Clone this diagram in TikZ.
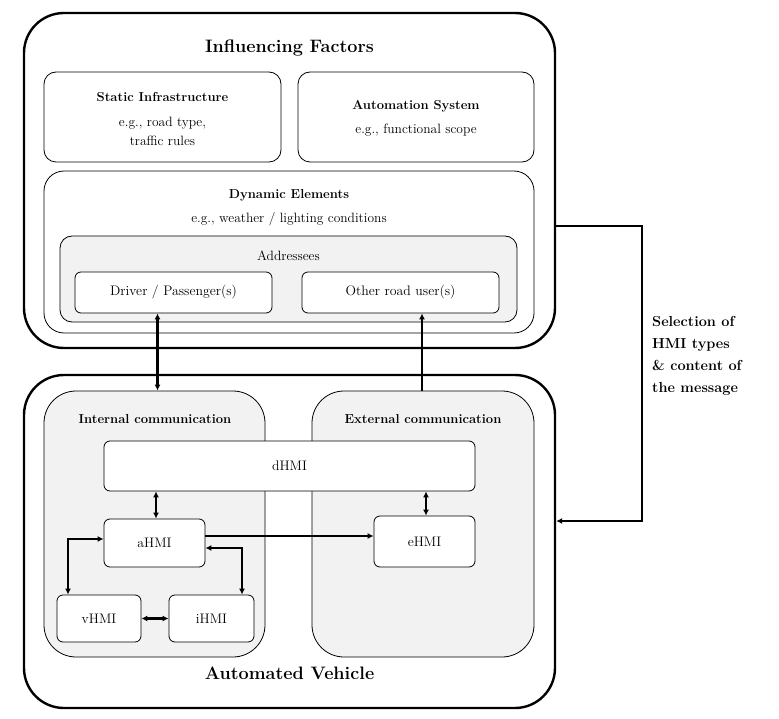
\documentclass[tikz,border=0pt]{standalone}
\usetikzlibrary{arrows.meta}
\definecolor{panel}{RGB}{242,242,242}
\begin{document}
\begin{tikzpicture}[x=1pt,y=-1pt,
  big/.style={draw,line width=2.4pt,rounded corners=40pt,inner sep=0pt},
  sub/.style={draw,line width=0.8pt,inner sep=0pt},
  grp/.style={sub,fill=panel},
  hmi/.style={sub,fill=white,rounded corners=6pt,font=\fontsize{13.8}{15}\selectfont},
  bigtitle/.style={font=\bfseries\fontsize{18}{21}\selectfont},
  subtitle/.style={font=\bfseries\fontsize{13}{16}\selectfont},
  body/.style={font=\fontsize{13.5}{19}\selectfont,align=center},
  arr/.style={line width=2.2pt,{Latex[length=6pt,width=6pt]}-{Latex[length=6pt,width=6pt]}},
  arrone/.style={line width=2.2pt,-{Latex[length=6pt,width=6pt]}},
]
\useasboundingbox (0,0) rectangle (779,719);
% Influencing factors
\node[big,minimum width=531pt,minimum height=335pt] (inf) at (289.5,180.5) {};
\node[bigtitle] (inftitle) at (289.5,48) {Influencing Factors};
\node[sub,rounded corners=12pt,minimum width=237pt,minimum height=90pt] (static) at (162.5,117) {};
\node[subtitle] (statict) at (162.5,97) {Static Infrastructure};
\node[body] (staticb) at (162.5,131) {e.g., road type,\\traffic rules};
\node[sub,rounded corners=12pt,minimum width=236pt,minimum height=90pt] (auto) at (416,117) {};
\node[subtitle] (autot) at (416,106) {Automation System};
\node[body] (autob) at (416,130) {e.g., functional scope};
\node[sub,rounded corners=20pt,minimum width=490pt,minimum height=162pt] (dyn) at (289,252) {};
\node[subtitle] (dynt) at (289,195) {Dynamic Elements};
\node[body] (dynb) at (289,219) {e.g., weather / lighting conditions};
\node[grp,rounded corners=12pt,minimum width=457pt,minimum height=86pt] (addr) at (288.5,279) {};
\node[body] (addrt) at (288.5,256) {Addressees};
\node[hmi,minimum width=197pt,minimum height=41pt] (driver) at (173.5,292.5) {Driver / Passenger(s)};
\node[hmi,minimum width=197pt,minimum height=41pt] (other) at (400.5,292.5) {Other road user(s)};
% Automated vehicle
\node[big,minimum width=531pt,minimum height=333pt] (av) at (289.5,541.5) {};
\node[bigtitle] (avtitle) at (289.5,673) {Automated Vehicle};
\node[grp,rounded corners=32pt,minimum width=221pt,minimum height=266pt] (int) at (154.5,524) {};
\node[subtitle] (intt) at (155,419) {Internal communication};
\node[grp,rounded corners=32pt,minimum width=222pt,minimum height=266pt] (ext) at (423,524) {};
\node[subtitle] (extt) at (423,419) {External communication};
\node[hmi,minimum width=371pt,minimum height=50pt] (dhmi) at (289.5,466) {dHMI};
\node[hmi,minimum width=101pt,minimum height=48pt] (ahmi) at (154.5,543) {aHMI};
\node[hmi,minimum width=101pt,minimum height=51pt] (ehmi) at (424.5,541.5) {eHMI};
\node[hmi,minimum width=84pt,minimum height=47pt] (vhmi) at (99,618.5) {vHMI};
\node[hmi,minimum width=85pt,minimum height=47pt] (ihmi) at (211.5,618.5) {iHMI};
% connectors
\draw[arr] (157.5,0 |- driver.south) -- (157.5,0 |- int.north);
\draw[arrone] (422,0 |- ext.north) -- (422,0 |- other.south);
\draw[arr] (156,0 |- dhmi.south) -- (156,0 |- ahmi.north);
\draw[arr] (426,0 |- dhmi.south) -- (426,0 |- ehmi.north);
\draw[arrone] (ahmi.east |- 0,536) -- (ehmi.west |- 0,536);
\draw[arr] (ahmi.west |- 0,539) -- (68,539) -- (68,0 |- vhmi.north);
\draw[arr] (ahmi.east |- 0,548) -- (242,548) -- (242,0 |- ihmi.north);
\draw[arr] (vhmi.east) -- (ihmi.west);
\draw[line width=2pt,-{Latex[length=6pt,width=6pt]}] (inf.east |- 0,226) -- (642,226) -- (642,521) -- (av.east |- 0,521);
\node[anchor=north west,align=left,font=\bfseries\fontsize{14.5}{22}\selectfont,inner sep=0pt] (sel) at (652,316) {Selection of\\HMI types\\\& content of\\the message};
\end{tikzpicture}
\end{document}
